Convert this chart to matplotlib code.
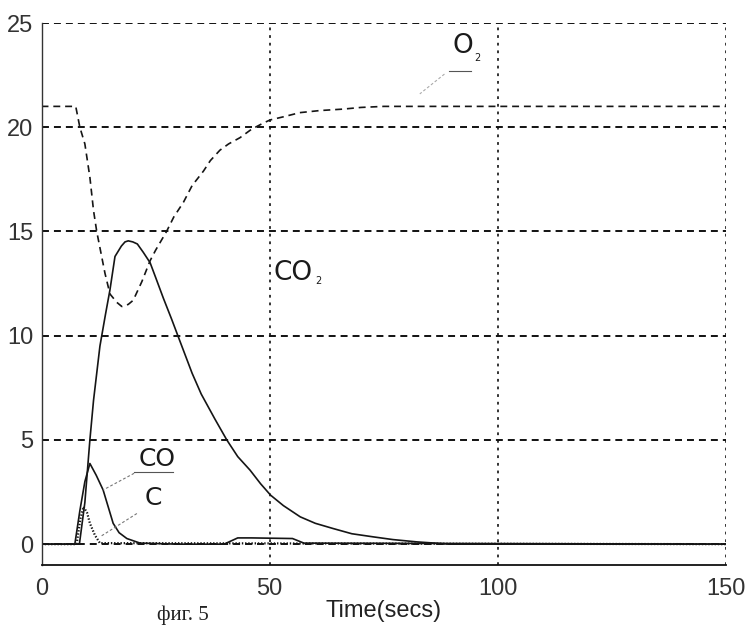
import matplotlib
matplotlib.use("Agg")
import matplotlib.pyplot as plt

plt.rcParams['lines.scale_dashes'] = False

# ---- data ----
t_o2 = [0, 7.5, 8.4, 9.5, 10.6, 11.4, 12.1, 13.9, 15, 16.5, 17.6, 19, 20.1, 22, 23.8, 25,
        27.4, 29, 31.1, 33, 35.5, 37, 39.1, 41, 43.5, 46, 48.6, 50.1, 53, 56.6, 61, 66.1,
        70, 75, 90, 150]
o2 = [21, 21, 20.0, 19.2, 17.6, 16.0, 15.0, 13.0, 12.0, 11.6, 11.4, 11.5, 11.7, 12.6, 13.6, 14.1,
      15.0, 15.7, 16.4, 17.2, 17.9, 18.4, 18.9, 19.2, 19.5, 19.9, 20.2, 20.35, 20.5, 20.7, 20.8, 20.87,
      20.95, 21.0, 21.0, 21.0]

t_co2 = [0, 8.3, 9.5, 10.6, 11.4, 12.8, 14, 15, 16.1, 17.5, 18.3, 19, 20, 21, 22.3, 23.8, 25,
         26.7, 28.5, 30.4, 33, 35, 38, 40.6, 43, 45.7, 48, 50.2, 53, 56.7, 60, 63.9, 68,
         72.7, 77, 82.2, 89.5, 100, 150]
co2 = [0, 0, 2.0, 5.0, 6.9, 9.5, 11.0, 12.2, 13.8, 14.3, 14.5, 14.55, 14.5, 14.4, 14.0, 13.5, 12.8,
       11.8, 10.8, 9.7, 8.2, 7.2, 6.0, 5.0, 4.2, 3.55, 2.9, 2.35, 1.85, 1.31, 1.0, 0.75, 0.5,
       0.35, 0.22, 0.11, 0.0, 0, 0]

t_co = [0, 7.3, 8.4, 9.5, 10.6, 12, 13.5, 15.7, 17, 18.7, 21.6, 30, 40, 43, 46, 55, 57.5, 150]
co = [0, 0, 1.6, 3.0, 3.87, 3.3, 2.6, 1.0, 0.55, 0.27, 0.05, 0, 0, 0.3, 0.3, 0.27, 0.05, 0]

t_c = [0, 7.7, 8.5, 9.2, 10.0, 10.6, 11.7, 12.8, 150]
c = [0, 0, 1.2, 1.8, 1.5, 1.0, 0.43, 0.05, 0]

xticks = [0, 50, 100, 150]
yticks = [0, 5, 10, 15, 20, 25]

fig = plt.figure(figsize=(7.48, 6.32), dpi=100)
ax = fig.add_axes([0.0555, 0.106, 0.9151, 0.8576])

line_col = '#151515'
ax.plot(t_o2, o2, color=line_col, lw=1.2, linestyle=(0, (5, 3.5)))
ax.plot(t_co2, co2, color=line_col, lw=1.2)
ax.plot(t_co, co, color=line_col, lw=1.2)
ax.plot(t_c, c, color=line_col, lw=1.6, linestyle=(0, (1, 1.3)))

ax.set_xlim(0, 150)
ax.set_ylim(-1, 25)
ax.set_xticks(xticks)
ax.set_yticks(yticks)
ax.tick_params(length=0, labelsize=17, labelcolor='#333333')
ax.tick_params(axis='x', pad=9)
ax.tick_params(axis='y', pad=6)
for lab in ax.get_xticklabels() + ax.get_yticklabels():
    lab.set_fontfamily('Liberation Sans')

ax.grid(axis='y', color='#111111', lw=1.4, linestyle=(0, (5, 3.6)))
ax.grid(axis='x', color='#111111', lw=1.2, linestyle=(0, (2, 3.5)))
ax.set_axisbelow(True)

ax.spines['top'].set_visible(False)
ax.spines['right'].set_visible(False)
ax.spines['left'].set_linewidth(1.0)
ax.spines['left'].set_color('#333333')
ax.spines['bottom'].set_linewidth(1.3)
ax.spines['bottom'].set_color('#111111')

ax.set_xlabel('Time(secs)', fontsize=17, family='Liberation Sans', color='#222222', labelpad=0)

# curve labels
lab_font = dict(family='DejaVu Sans', color='#1a1a1a', ha='center', va='center')
ax.text(92.3, 23.9, 'O', fontsize=19, **lab_font)
ax.text(95.6, 23.3, '2', fontsize=7, **lab_font)
ax.plot([89.3, 94.2], [22.7, 22.7], color='#555555', lw=0.8)
ax.plot([88.3, 82.9], [22.55, 21.6], color='#aaaaaa', lw=0.8, linestyle=(0, (2, 1.5)))

ax.text(55.2, 13.0, 'CO', fontsize=19, **lab_font)
ax.text(60.6, 12.6, '2', fontsize=7, **lab_font)

ax.text(25.4, 4.08, 'CO', fontsize=18, **lab_font)
ax.plot([20.3, 28.8], [3.45, 3.45], color='#555555', lw=0.8)
ax.plot([20.3, 13.5], [3.4, 2.6], color='#777777', lw=0.8, linestyle=(0, (2, 1.5)))

ax.text(24.5, 2.23, 'C', fontsize=18, **lab_font)
ax.plot([20.9, 12.8], [1.47, 0.35], color='#777777', lw=0.8, linestyle=(0, (2, 1.5)))

fig.text(182.5 / 748, 1 - 615 / 632, 'фиг. 5', fontsize=15, family='Liberation Serif',
         color='#222222', ha='center', va='center')

fig.savefig('out.png', dpi=100, facecolor='white')
